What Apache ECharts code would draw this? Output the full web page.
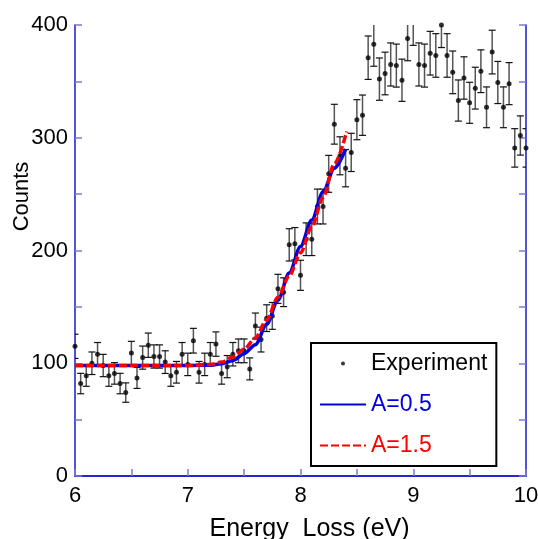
<!DOCTYPE html>
<html>
<head>
<meta charset="utf-8">
<script src="https://cdn.jsdelivr.net/npm/echarts@6/dist/echarts.min.js"></script>
<style>
  html, body { margin: 0; padding: 0; background: #fff; }
  #chart { width: 538px; height: 539px; }
</style>
</head>
<body>
<div id="chart"></div>
<script>
// measured spectrum, 6.00 .. 10.00 eV in 0.05 eV steps
const energies = [
  6.00, 6.05, 6.10, 6.15, 6.20, 6.25, 6.30, 6.35, 6.40, 6.45,
  6.50, 6.55, 6.60, 6.65, 6.70, 6.75, 6.80, 6.85, 6.90, 6.95,
  7.00, 7.05, 7.10, 7.15, 7.20, 7.25, 7.30, 7.35, 7.40, 7.45,
  7.50, 7.55, 7.60, 7.65, 7.70, 7.75, 7.80, 7.85, 7.90, 7.95,
  8.00, 8.05, 8.10, 8.15, 8.20, 8.25, 8.30, 8.35, 8.40, 8.45,
  8.50, 8.55, 8.60, 8.65, 8.70, 8.75, 8.80, 8.85, 8.90, 8.95,
  9.00, 9.05, 9.10, 9.15, 9.20, 9.25, 9.30, 9.35, 9.40, 9.45,
  9.50, 9.55, 9.60, 9.65, 9.70, 9.75, 9.80, 9.85, 9.90, 9.95,
  10.00
];
const counts = [
  115, 82, 89, 100, 108, 98, 89, 91, 82, 74,
  109, 87, 105, 116, 106, 106, 101, 89, 92, 108,
  99, 120, 92, 99, 108, 117, 91, 97, 108, 111,
  111, 95, 133, 121, 140, 142, 166, 163, 205, 206,
  178, 210, 210, 239, 239, 268, 312, 284, 273, 287,
  316, 320, 371, 383, 352, 357, 365, 364, 351, 388,
  402, 365, 364, 375, 373, 400, 373, 358, 333, 353,
  331, 344, 359, 327, 376, 349, 327, 348, 291, 302,
  291
];

// fitted curves
const fitA05X = [6.0, 7.0, 7.2, 7.3, 7.4, 7.5, 7.6, 7.7, 7.8, 7.9, 8.0, 8.1, 8.2, 8.3, 8.4];
const fitA05Y = [98, 98, 98.3, 99.5, 102.5, 108.5, 116.5, 134.5, 156, 180, 203.5, 227, 252, 273, 290];
const fitA15X = [6.0, 7.0, 7.2, 7.3, 7.4, 7.5, 7.6, 7.7, 7.8, 7.9, 8.0, 8.1, 8.2, 8.3, 8.41];
const fitA15Y = [98, 98, 99, 101, 105.5, 112.5, 122.5, 138.5, 158.5, 177.5, 198, 221, 247, 277, 305.5];

const xTicks = [6, 7, 8, 9, 10];
const yTicks = [0, 100, 200, 300, 400];

const FONT = 'Liberation Sans, Arial, Helvetica, sans-serif';
const AXIS_BLUE = '#1a1acc';

// error bars drawn are the Poisson sqrt(N) of each count
const errs = counts.map(Math.sqrt);

const chart = echarts.init(document.getElementById('chart'));

const axisCommon = {
  type: 'value',
  axisLine: { show: true, lineStyle: { color: AXIS_BLUE, width: 1.5 } },
  splitLine: { show: false },
  axisTick: { show: true, inside: true, length: 7, lineStyle: { color: '#7a7ae0', width: 1.5 } },
  minorTick: { show: true, splitNumber: 2, length: 7, lineStyle: { color: '#7a7ae0', width: 1.5 } },
  axisLabel: { color: '#000', fontSize: 22, fontFamily: FONT }
};

const option = {
  animation: false,
  backgroundColor: '#fff',
  grid: { left: 75, right: 12, top: 25, bottom: 63, containLabel: false, outerBoundsMode: 'none' },
  legend: {
    orient: 'vertical',
    left: 311,
    top: 343,
    padding: [9, 9, 9, 8],
    itemWidth: 46,
    itemHeight: 4,
    itemGap: 18,
    backgroundColor: '#fff',
    borderColor: '#000',
    borderWidth: 2,
    textStyle: { fontSize: 23, fontFamily: FONT },
    data: [
      { name: 'Experiment', icon: 'circle', textStyle: { color: '#000' } },
      { name: 'A=0.5', itemStyle: { opacity: 0 }, textStyle: { color: '#0000dd' } },
      { name: 'A=1.5', itemStyle: { opacity: 0 }, textStyle: { color: '#ff0000' } }
    ]
  },
  xAxis: [
    Object.assign({}, axisCommon, {
      min: xTicks[0], max: xTicks[xTicks.length - 1], interval: 1,
      position: 'bottom',
      axisLabel: Object.assign({}, axisCommon.axisLabel, { margin: 9 }),
      name: 'Energy  Loss (eV)',
      nameLocation: 'middle',
      nameMoveOverlap: false,
      nameGap: 41,
      nameTextStyle: { color: '#000', fontSize: 25, fontFamily: FONT, padding: [0, 0, 0, 18] }
    }),
    {
      type: 'value', min: 6, max: 10, position: 'top',
      axisLine: { show: true, lineStyle: { color: AXIS_BLUE, width: 1.5 } },
      axisTick: { show: false }, axisLabel: { show: false }, splitLine: { show: false }
    }
  ],
  yAxis: [
    Object.assign({}, axisCommon, {
      min: yTicks[0], max: yTicks[yTicks.length - 1], interval: 100,
      position: 'left',
      axisLabel: Object.assign({}, axisCommon.axisLabel, { margin: 7 }),
      name: 'Counts',
      nameLocation: 'middle',
      nameMoveOverlap: false,
      nameGap: 42,
      nameTextStyle: { color: '#000', fontSize: 22, fontFamily: FONT, padding: [0, 0, 0, 108] }
    }),
    Object.assign({}, axisCommon, {
      min: 0, max: 400, interval: 100,
      position: 'right',
      axisLabel: { show: false }
    })
  ],
  series: [
    {
      name: 'errbar',
      type: 'custom',
      clip: true,
      z: 2,
      renderItem: function (params, api) {
        const x = api.value(0);
        const top = api.coord([x, api.value(2)]);
        const bot = api.coord([x, api.value(1)]);
        const cw = 3.5;
        return {
          type: 'group',
          children: [
            { type: 'line', shape: { x1: top[0], y1: top[1], x2: bot[0], y2: bot[1] },
              style: { stroke: '#555', lineWidth: 1.5 } },
            { type: 'line', shape: { x1: top[0] - cw, y1: top[1], x2: top[0] + cw, y2: top[1] },
              style: { stroke: '#111', lineWidth: 1.2 } },
            { type: 'line', shape: { x1: bot[0] - cw, y1: bot[1], x2: bot[0] + cw, y2: bot[1] },
              style: { stroke: '#111', lineWidth: 1.2 } }
          ]
        };
      },
      encode: { x: 0, y: [1, 2] },
      data: energies.map((e, i) => [e, counts[i] - errs[i], counts[i] + errs[i]])
    },
    {
      name: 'Experiment',
      type: 'scatter',
      symbol: 'circle',
      symbolSize: 5,
      z: 3,
      itemStyle: { color: '#000' },
      data: energies.map((e, i) => [e, counts[i]])
    },
    {
      name: 'A=0.5',
      type: 'line',
      symbol: 'none',
      smooth: 0.3,
      smoothMonotone: 'x',
      z: 4,
      itemStyle: { color: '#0000dd' },
      lineStyle: { color: '#0000dd', width: 3.5 },
      data: fitA05X.map((x, i) => [x, fitA05Y[i]])
    },
    {
      name: 'A=1.5',
      type: 'line',
      symbol: 'none',
      smooth: 0.3,
      smoothMonotone: 'x',
      z: 5,
      itemStyle: { color: '#ff0000' },
      lineStyle: { color: '#ff0000', width: 3.5, type: [8, 3] },
      data: fitA15X.map((x, i) => [x, fitA15Y[i]])
    }
  ]
};

chart.setOption(option);
</script>
</body>
</html>
